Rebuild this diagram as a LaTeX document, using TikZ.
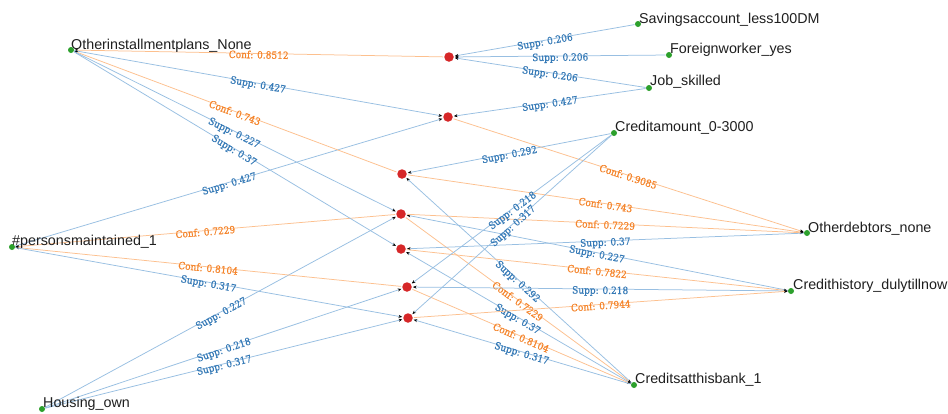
\documentclass[tikz,border=0pt]{standalone}
\usepackage{fontspec}
\setmainfont{Liberation Sans}
\newfontfamily\edgefont[FakeStretch=0.9,FakeBold=0.6]{DejaVu Serif}
\usetikzlibrary{arrows.meta}
\definecolor{suppline}{HTML}{98BFE2}
\definecolor{supptext}{HTML}{3479B6}
\definecolor{confline}{HTML}{FDC08E}
\definecolor{conftext}{HTML}{F5842A}
\definecolor{itemdot}{HTML}{2CA02C}
\definecolor{ruledot}{HTML}{D62728}
\pgfdeclarelayer{back}
\pgfdeclarelayer{edges}
\pgfsetlayers{back,edges,main}

\begin{document}
\begin{tikzpicture}[x=1pt,y=-1pt,
  item/.style={circle,fill=itemdot,inner sep=0pt,minimum size=6pt,outer sep=0.5pt},
  rule/.style={circle,fill=ruledot,inner sep=0pt,minimum size=9.5pt,outer sep=1.2pt},
  itemlabel/.style={anchor=base west,inner sep=0pt,text=black!88,
    font=\fontsize{14.3}{16}\selectfont},
  tip/.style={-{Stealth[black,length=3.6pt,width=3pt]}},
  supp/.style={draw=suppline,line width=0.75pt,tip},
  conf/.style={draw=confline,line width=0.75pt,tip},
  lab/.style={midway,sloped,below=-3pt,inner sep=0pt,
    font=\edgefont\fontsize{10}{11}\selectfont},
  supplab/.style={lab,text=supptext},
  conflab/.style={lab,text=conftext}
]
\useasboundingbox (0,0) rectangle (948,413);
\begin{pgfonlayer}{back}
\fill[white] (0,0) rectangle (948,413);
\end{pgfonlayer}

% item nodes
\node[item] (OIP) at (71,50) {};
\node[item] (SAV) at (638,24) {};
\node[item] (FW)  at (669,55) {};
\node[item] (JOB) at (649,88) {};
\node[item] (CA)  at (614,133) {};
\node[item] (PM)  at (12,247) {};
\node[item] (OD)  at (807,233) {};
\node[item] (CH)  at (791,291) {};
\node[item] (CB)  at (634,385) {};
\node[item] (HO)  at (42,409) {};

% item names
\node[itemlabel] (tOIP) at (71,49) {Otherinstallmentplans\_None};
\node[itemlabel] (tSAV) at (639,23) {Savingsaccount\_less100DM};
\node[itemlabel] (tFW)  at (670,53.5) {Foreignworker\_yes};
\node[itemlabel] (tJOB) at (650,85.5) {Job\_skilled};
\node[itemlabel] (tCA)  at (615,131) {Creditamount\_0-3000};
\node[itemlabel] (tPM)  at (12,245) {\#personsmaintained\_1};
\node[itemlabel] (tOD)  at (808,232) {Otherdebtors\_none};
\node[itemlabel] (tCH)  at (793,289) {Credithistory\_dulytillnow};
\node[itemlabel] (tCB)  at (635,383) {Creditsatthisbank\_1};
\node[itemlabel] (tHO)  at (43,407) {Housing\_own};

% rule nodes
\node[rule] (R1) at (449,57) {};
\node[rule] (R2) at (448,117) {};
\node[rule] (R3) at (402,174) {};
\node[rule] (R4) at (401,214) {};
\node[rule] (R5) at (401,249) {};
\node[rule] (R6) at (407,287) {};
\node[rule] (R7) at (408,318) {};

\begin{pgfonlayer}{edges}
% rule 1
\draw[supp] (SAV) -- node[supplab] {Supp: 0.206} (R1);
\draw[supp] (FW)  -- node[supplab] {Supp: 0.206} (R1);
\draw[supp] (JOB) -- node[supplab] {Supp: 0.206} (R1);
\draw[conf] (R1)  -- node[conflab] {Conf: 0.8512} (OIP);
% rule 2
\draw[supp] (OIP) -- node[supplab] {Supp: 0.427} (R2);
\draw[supp] (JOB) -- node[supplab] {Supp: 0.427} (R2);
\draw[supp] (PM)  -- node[supplab] {Supp: 0.427} (R2);
\draw[conf] (R2)  -- node[conflab] {Conf: 0.9085} (OD);
% rule 3
\draw[supp] (CA)  -- node[supplab] {Supp: 0.292} (R3);
\draw[supp] (CB)  -- node[supplab] {Supp: 0.292} (R3);
\draw[conf] (R3)  -- node[conflab] {Conf: 0.743} (OIP);
\draw[conf] (R3)  -- node[conflab] {Conf: 0.743} (OD);
% rule 4
\draw[supp] (OIP) -- node[supplab] {Supp: 0.227} (R4);
\draw[supp] (HO)  -- node[supplab] {Supp: 0.227} (R4);
\draw[supp] (CH)  -- node[supplab] {Supp: 0.227} (R4);
\draw[conf] (R4)  -- node[conflab] {Conf: 0.7229} (PM);
\draw[conf] (R4)  -- node[conflab] {Conf: 0.7229} (OD);
\draw[conf] (R4)  -- node[conflab] {Conf: 0.7229} (CB);
% rule 5
\draw[supp] (OIP) -- node[supplab] {Supp: 0.37} (R5);
\draw[supp] (OD)  -- node[supplab] {Supp: 0.37} (R5);
\draw[supp] (CB)  -- node[supplab] {Supp: 0.37} (R5);
\draw[conf] (R5)  -- node[conflab] {Conf: 0.7822} (CH);
% rule 6
\draw[supp] (HO)  -- node[supplab] {Supp: 0.218} (R6);
\draw[supp] (CA)  -- node[supplab] {Supp: 0.218} (R6);
\draw[supp] (CH)  -- node[supplab] {Supp: 0.218} (R6);
\draw[conf] (R6)  -- node[conflab] {Conf: 0.8104} (PM);
\draw[conf] (R6)  -- node[conflab] {Conf: 0.8104} (CB);
% rule 7
\draw[supp] (PM)  -- node[supplab] {Supp: 0.317} (R7);
\draw[supp] (HO)  -- node[supplab] {Supp: 0.317} (R7);
\draw[supp] (CA)  -- node[supplab] {Supp: 0.317} (R7);
\draw[supp] (CB)  -- node[supplab] {Supp: 0.317} (R7);
\draw[conf] (R7)  -- node[conflab] {Conf: 0.7944} (CH);
\end{pgfonlayer}
\end{tikzpicture}
\end{document}
